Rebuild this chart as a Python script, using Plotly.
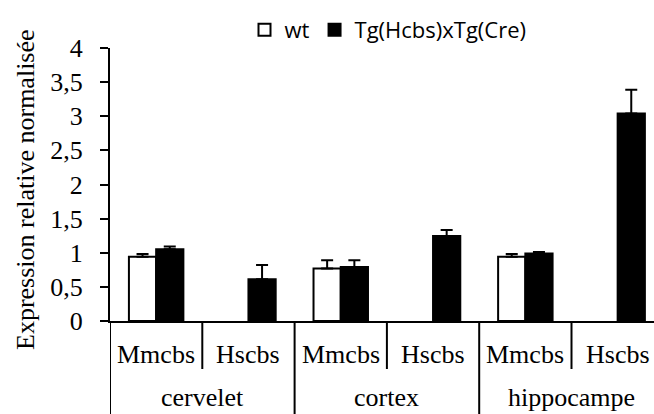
import plotly.graph_objects as go

# Relative expression per tissue and transcript
tissues = ["cervelet", "cortex", "hippocampe"]
transcripts = ["Mmcbs", "Hscbs", "Mmcbs", "Hscbs", "Mmcbs", "Hscbs"]
wt_values = [0.94, None, 0.77, None, 0.94, None]
wt_errors = [0.04, None, 0.12, None, 0.04, None]
tg_values = [1.05, 0.61, 0.79, 1.245, 0.99, 3.04]
tg_errors = [0.04, 0.21, 0.10, 0.09, 0.02, 0.35]
y_ticks = [0, 0.5, 1, 1.5, 2, 2.5, 3, 3.5, 4]

positions = list(range(len(transcripts)))
serif = "Liberation Serif"
line_w = 2

fig = go.Figure()
fig.add_trace(go.Bar(
    x=positions, y=wt_values, name="wt",
    marker=dict(color="white", line=dict(color="black", width=line_w)),
    error_y=dict(type="data", array=wt_errors, symmetric=False,
                 arrayminus=[0] * len(wt_errors), color="black",
                 thickness=2, width=6),
))
fig.add_trace(go.Bar(
    x=positions, y=tg_values, name="Tg(Hcbs)xTg(Cre)",
    marker=dict(color="black", line=dict(color="black", width=line_w)),
    error_y=dict(type="data", array=tg_errors, symmetric=False,
                 arrayminus=[0] * len(tg_errors), color="black",
                 thickness=2, width=6),
))

# plot area: 544 px wide, each category 92.3 px
cat_px = 92.3
plot_w = 544
x_range = [-0.5, -0.5 + plot_w / cat_px]
plot_h = 273
bottom_px = 93

shapes = []
# long dividers between tissue groups (including the left edge)
for xb in [-0.5, 1.5, 3.5]:
    shapes.append(dict(type="line", xref="x", yref="paper", x0=xb, x1=xb,
                       y0=0, y1=-(bottom_px + 5) / plot_h,
                       line=dict(color="black", width=line_w)))
# short dividers between transcripts within a group
for xb in [0.5, 2.5, 4.5]:
    shapes.append(dict(type="line", xref="x", yref="paper", x0=xb, x1=xb,
                       y0=0, y1=-48 / plot_h,
                       line=dict(color="black", width=line_w)))

annotations = []
for i, t in enumerate(transcripts):
    annotations.append(dict(x=i, y=-33 / plot_h, xref="x", yref="paper",
                            text=t, showarrow=False, xanchor="center",
                            yanchor="middle",
                            font=dict(family=serif, size=26, color="black")))
for g, t in enumerate(tissues):
    annotations.append(dict(x=2 * g + 0.5, y=-77 / plot_h, xref="x", yref="paper",
                            text=t, showarrow=False, xanchor="center",
                            yanchor="middle",
                            font=dict(family=serif, size=26, color="black")))
# y-axis title
annotations.append(dict(x=-84 / plot_w, y=(321 - 190) / plot_h, xref="paper",
                        yref="paper", text="Expression relative normalisée",
                        textangle=-90, showarrow=False, xanchor="center",
                        yanchor="middle",
                        font=dict(family=serif, size=26, color="black")))

fig.update_layout(
    width=654, height=414,
    margin=dict(l=110, r=0, t=48, b=bottom_px, pad=0),
    paper_bgcolor="white", plot_bgcolor="white",
    barmode="group", bargap=0.41, bargroupgap=0,
    separators=", ",
    showlegend=True,
    legend=dict(orientation="h", x=(388 - 110) / plot_w, xanchor="center",
                y=(321 - 30) / plot_h, yanchor="middle",
                font=dict(family="Open Sans", size=22, color="black"),
                itemwidth=30, bgcolor="rgba(0,0,0,0)"),
    xaxis=dict(range=x_range, showline=True, linecolor="black",
               linewidth=line_w, showticklabels=False, ticks="",
               showgrid=False, zeroline=False, fixedrange=True),
    yaxis=dict(range=[0, 4], tickvals=y_ticks, showline=True,
               linecolor="black", linewidth=line_w, ticks="outside",
               ticklen=8, tickwidth=line_w, tickcolor="black",
               showgrid=False, zeroline=False,
               tickfont=dict(family=serif, size=26, color="black"),
               ticklabelstandoff=12),
    shapes=shapes,
    annotations=annotations,
)

fig.write_html("out.html")
